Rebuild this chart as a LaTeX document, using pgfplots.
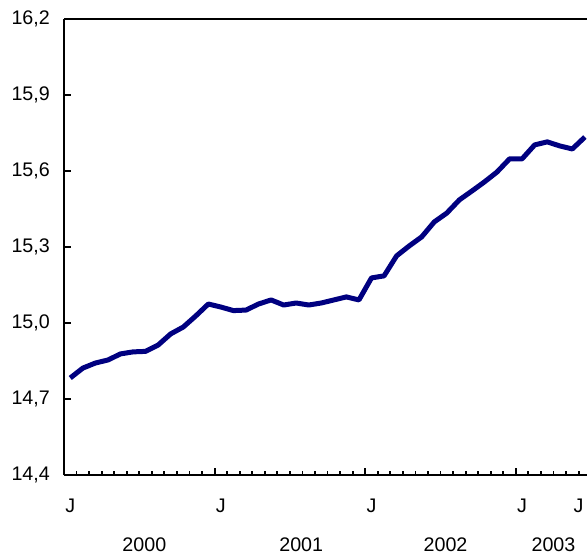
\documentclass[border=0pt]{standalone}
\usepackage{pgfplots}
\pgfplotsset{compat=1.18}
\usetikzlibrary{calc}
\usepackage{fontspec}
\setmainfont{Liberation Sans}
\definecolor{navy}{RGB}{0,0,128}
\newcommand\chartfont{\fontsize{11.8}{14}\selectfont}
\begin{document}
\begin{tikzpicture}
\begin{axis}[
  scale only axis, width=313.8pt, height=273.6pt,
  xmin=0, xmax=41.67, ymin=14.4, ymax=16.2,
  axis x line=bottom, axis y line=left,
  axis line style={-, line width=1.4pt, black},
  clip mode=individual,
  tick align=inside,
  tick style={line width=1.1pt, black},
  major tick length=4pt, minor tick length=2.4pt,
  ytick={14.4,14.7,15.0,15.3,15.6,15.9,16.2},
  yticklabel style={font=\chartfont, xshift=-5pt},
  /pgf/number format/.cd, fixed, fixed zerofill, precision=1, use comma, assume math mode=true,
  /pgfplots/.cd,
  xtick={0,12,24,36}, xticklabels={},
  minor xtick={1,2,3,4,5,6,7,8,9,10,11,13,14,15,16,17,18,19,20,21,22,23,25,26,27,28,29,30,31,32,33,34,35,37,38,39,40,41},
  extra x ticks={0.5,12.5,24.5,36.5,41.0},
  extra x tick labels={J,J,J,J,J},
  extra x tick style={major tick length=0pt, tick style={draw=none}, xticklabel style={font=\chartfont, yshift=-11pt}},
]
\addplot[navy, line width=3pt, line join=round] table {
x y
0.5 14.783
1.5 14.822
2.5 14.842
3.5 14.854
4.5 14.878
5.5 14.886
6.5 14.888
7.5 14.913
8.5 14.957
9.5 14.984
10.5 15.028
11.5 15.075
12.5 15.063
13.5 15.049
14.5 15.051
15.5 15.075
16.5 15.091
17.5 15.071
18.5 15.079
19.5 15.071
20.5 15.079
21.5 15.091
22.5 15.103
23.5 15.091
24.5 15.178
25.5 15.186
26.5 15.265
27.5 15.304
28.5 15.340
29.5 15.399
30.5 15.434
31.5 15.486
32.5 15.521
33.5 15.557
34.5 15.596
35.5 15.648
36.5 15.648
37.5 15.703
38.5 15.715
39.5 15.699
40.5 15.687
41.5 15.734
};
\draw[line width=1.4pt, black] (rel axis cs:0,1) -- (rel axis cs:1,1);
\node[font=\chartfont, yshift=-42pt] at (axis cs:6.4,14.4) {2000};
\node[font=\chartfont, yshift=-42pt] at (axis cs:18.9,14.4) {2001};
\node[font=\chartfont, yshift=-42pt] at (axis cs:30.4,14.4) {2002};
\node[font=\chartfont, yshift=-42pt] at (axis cs:39.0,14.4) {2003};
\end{axis}
\pgfresetboundingbox
\path ($(current axis.south west)+(-38.4pt,-49.8pt)$) rectangle ($(current axis.north east)+(0pt,11.4pt)$);
\end{tikzpicture}
\end{document}
